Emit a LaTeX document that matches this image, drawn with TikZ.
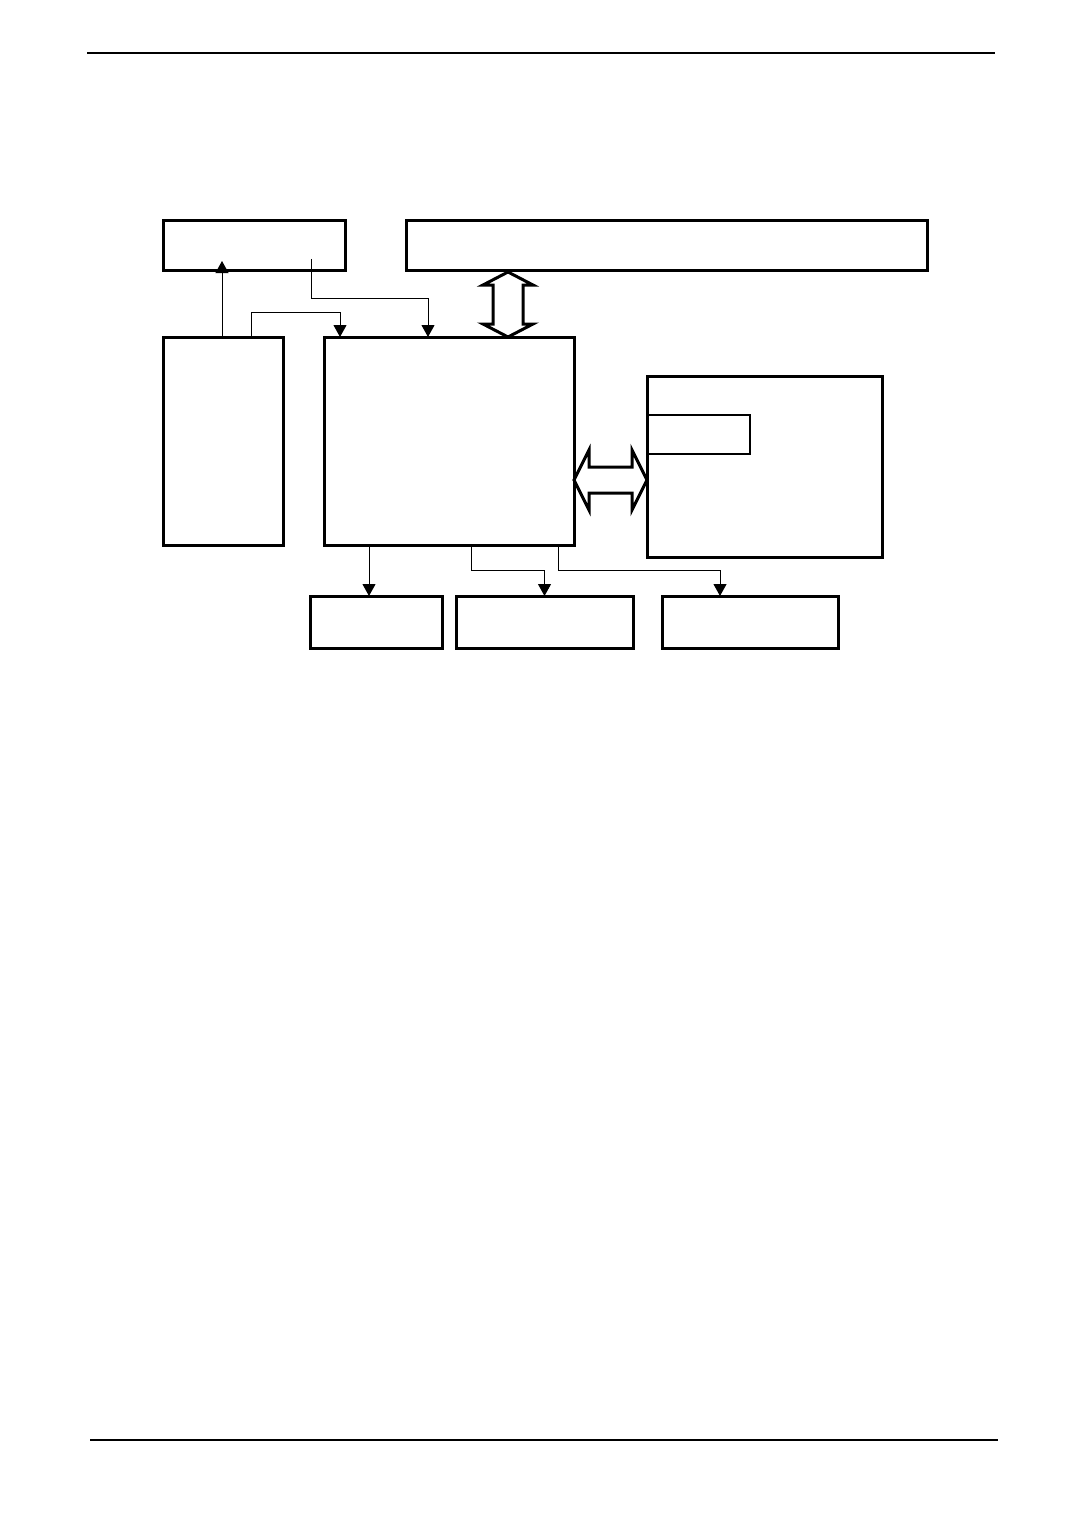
\documentclass[tikz,border=0pt]{standalone}
\usetikzlibrary{arrows.meta,calc}
\begin{document}
\begin{tikzpicture}[x=0.5pt,y=-0.5pt,
  box/.style={draw=black,line width=1.5pt,fill=white,inner sep=0pt,outer sep=0pt,anchor=north west},
  thinbox/.style={draw=black,line width=0.75pt,inner sep=0pt,outer sep=0pt,anchor=north west},
  conn/.style={draw=black,line width=0.5pt,-{Triangle[length=6pt,width=6.5pt]}},
  wire/.style={draw=black,line width=0.5pt},
  fat/.style={draw=black,line width=1.5pt,fill=white,line join=miter},
  rule/.style={draw=black,line width=0.7pt}]
\useasboundingbox (0,0) rectangle (1080,1514);
% page rules
\coordinate (r1a) at (87,53); \coordinate (r1b) at (995,53);
\coordinate (r2a) at (90,1440); \coordinate (r2b) at (998,1440);
\draw[rule] (r1a) -- (r1b);
\draw[rule] (r2a) -- (r2b);
% boxes
\node[box,minimum width=91pt,minimum height=24.5pt] (A) at (163,221) {};
\node[box,minimum width=260.5pt,minimum height=24.5pt] (B) at (406,221) {};
\node[box,minimum width=60pt,minimum height=104pt] (C) at (163,337) {};
\node[box,minimum width=125pt,minimum height=104pt] (D) at (324,337) {};
\node[box,minimum width=117.5pt,minimum height=90.5pt] (E) at (647,376) {};
\node[thinbox,minimum width=51.5pt,minimum height=19.5pt] (Ei) at (647,415) {};
\node[box,minimum width=66pt,minimum height=26pt] (F) at (310,596) {};
\node[box,minimum width=88.5pt,minimum height=26pt] (G) at (456,596) {};
\node[box,minimum width=88pt,minimum height=26pt] (H) at (662,596) {};
% connectors top
\draw[conn] (C.north -| 222,0) -- ($(222,0 |- A.south)+(0,-9)$);
\draw[conn] ($(C.north)+(28,0)$) |- ($(D.north)+(-109,-25)$) -- ($(D.north)+(-109,0)$);
\coordinate (a1) at (311,259);
\draw[conn] (a1) |- ($(D.north)+(-21,-39)$) -- ($(D.north)+(-21,0)$);
% connectors bottom
\draw[conn] ($(D.south west)+(45,0)$) -- ($(F.north)+(-7,0)$);
\draw[conn] ($(D.south)+(22,0)$) |- ($(G.north)+(0,-26)$) -- (G.north);
\draw[conn] ($(D.south)+(109,0)$) |- ($(H.north)+(-30,-26)$) -- ($(H.north)+(-30,0)$);
% vertical double arrow between B and D
\coordinate (v1) at (508,272);
\coordinate (v2) at (508,337);
\draw[fat] (v1) -- ++(25,13) -- ++(-10,0) -- ++(0,39) -- ++(10,0) -- (v2)
  -- ++(-25,-13) -- ++(10,0) -- ++(0,-39) -- ++(-10,0) -- cycle;
% horizontal double arrow between D and E
\coordinate (h1) at (574,480);
\coordinate (h2) at (647,480);
\draw[fat] (h1) -- ++(15,-30) -- ++(0,17) -- ++(43,0) -- ++(0,-17) -- (h2)
  -- ++(-15,30) -- ++(0,-17) -- ++(-43,0) -- ++(0,17) -- cycle;
\end{tikzpicture}
\end{document}
